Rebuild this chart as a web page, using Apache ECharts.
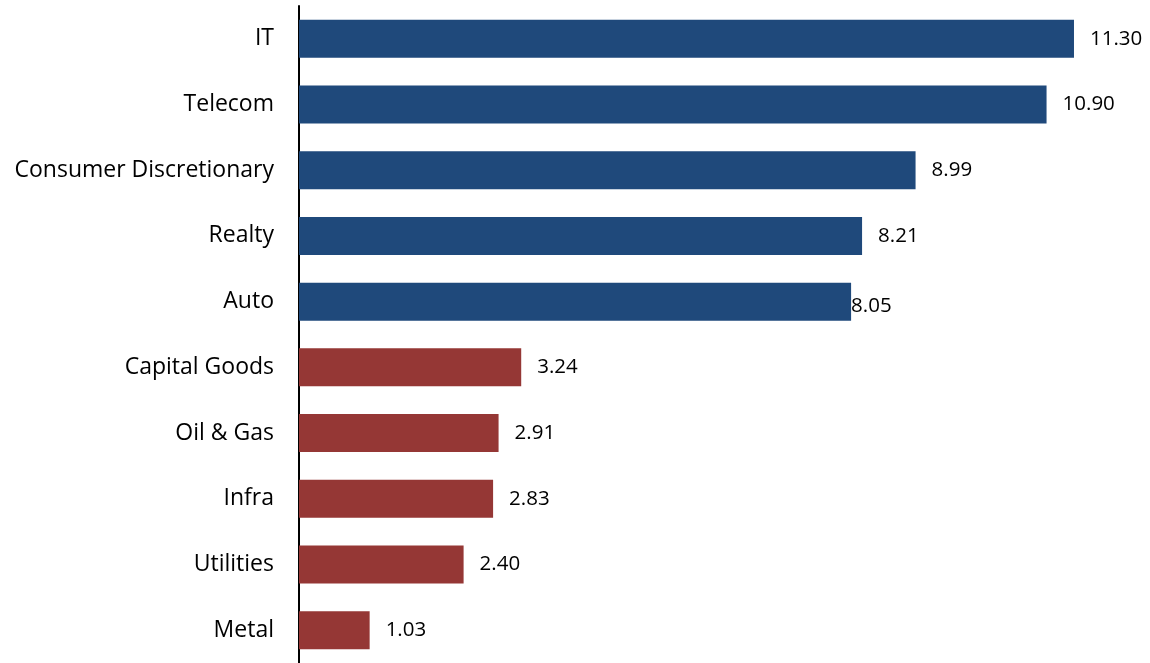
<!DOCTYPE html>
<html>
<head>
<meta charset="utf-8">
<script src="https://cdn.jsdelivr.net/npm/echarts@6/dist/echarts.min.js"></script>
<style>
  html, body { margin: 0; padding: 0; background: #ffffff; }
  #chart { width: 1150px; height: 663px; }
</style>
</head>
<body>
<div id="chart"></div>
<script>
// Sector values, top to bottom
const sectors = ['IT', 'Telecom', 'Consumer Discretionary', 'Realty', 'Auto',
                 'Capital Goods', 'Oil & Gas', 'Infra', 'Utilities', 'Metal'];
const values = [11.30, 10.90, 8.99, 8.21, 8.05, 3.24, 2.91, 2.83, 2.40, 1.03];
// Sectors drawn in the upper (blue) group
const upperGroup = ['IT', 'Telecom', 'Consumer Discretionary', 'Realty', 'Auto'];

const BLUE = '#1F497B';
const RED = '#953735';
const FONT = '"Open Sans"';

// Label placement tweaks per sector (the Auto label sits against its bar)
const labelTweak = { 'Auto': { distance: 0, offset: [0, 5] } };

const seriesData = sectors.map(function (name, i) {
  const tweak = labelTweak[name] || {};
  return {
    value: values[i],
    itemStyle: { color: upperGroup.indexOf(name) >= 0 ? BLUE : RED },
    label: {
      distance: tweak.distance !== undefined ? tweak.distance : 16,
      offset: tweak.offset || [0, 0]
    }
  };
});

const chart = echarts.init(document.getElementById('chart'), null, { renderer: 'canvas' });
chart.setOption({
  animation: false,
  backgroundColor: '#ffffff',
  grid: { left: 299, right: 28, top: 6, bottom: -3, containLabel: false },
  xAxis: {
    type: 'value',
    min: 0,
    max: 12,
    show: false
  },
  yAxis: {
    type: 'category',
    data: sectors,
    inverse: true,
    axisLine: { show: true, lineStyle: { color: '#000000', width: 2 } },
    axisTick: { show: false },
    axisLabel: {
      margin: 25,
      color: '#000000',
      fontFamily: FONT,
      fontSize: 23
    },
    splitLine: { show: false }
  },
  series: [{
    type: 'bar',
    data: seriesData,
    barWidth: 38,
    label: {
      show: true,
      position: 'right',
      color: '#000000',
      fontFamily: FONT,
      fontSize: 20.5,
      formatter: function (p) { return p.value.toFixed(2); }
    }
  }]
});
</script>
</body>
</html>
